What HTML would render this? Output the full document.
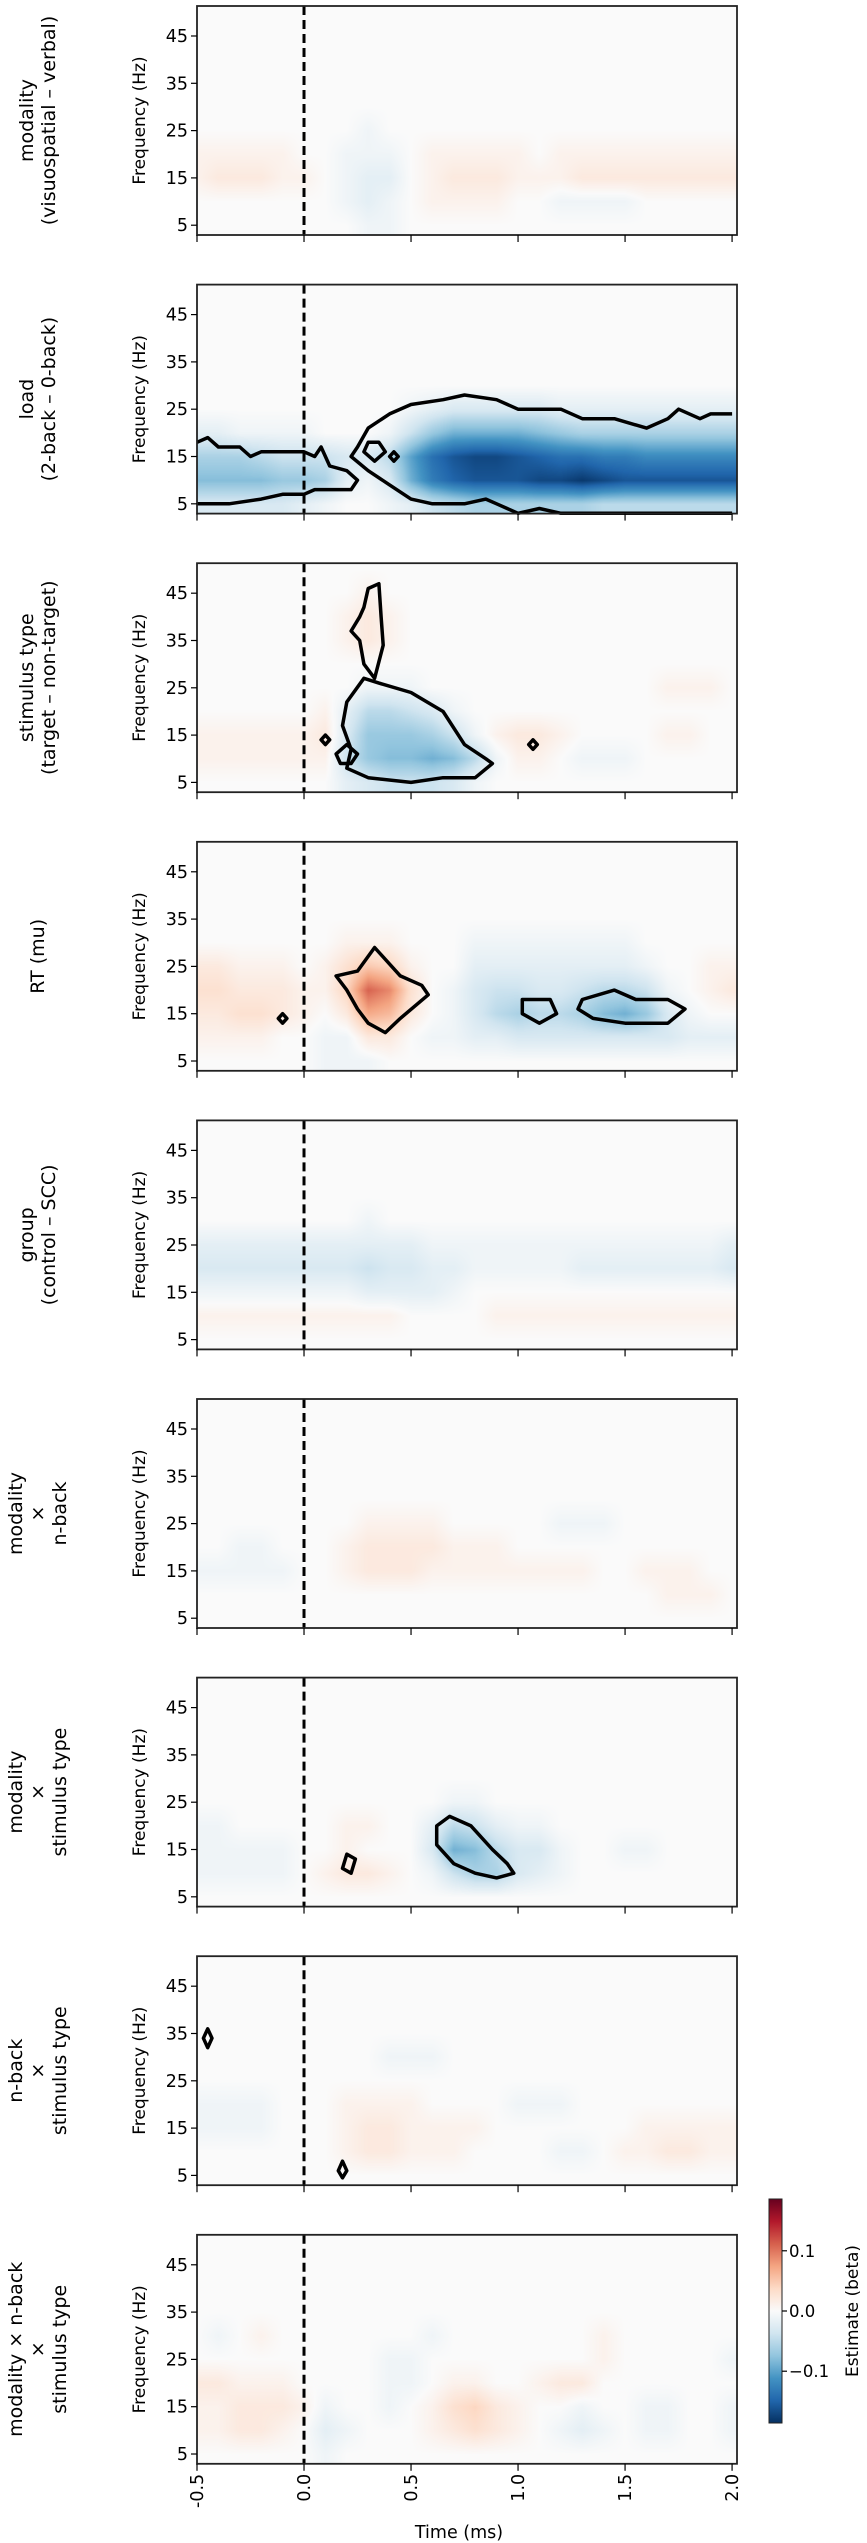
<!DOCTYPE html>
<html><head><meta charset="utf-8">
<style>
html,body{margin:0;padding:0;background:#fff;}
body{width:867px;height:2543px;position:relative;overflow:hidden;font-family:"DejaVu Sans","Liberation Sans",sans-serif;}
canvas{position:absolute;}
svg{position:absolute;left:0;top:0;}
</style></head>
<body>
<svg id="fig" width="867" height="2543"></svg>
<script>
// ---- data ----
const times = [-0.5,-0.4,-0.3,-0.2,-0.1,0,0.1,0.2,0.3,0.4,0.5,0.6,0.7,0.8,0.9,1.0,1.1,1.2,1.3,1.4,1.5,1.6,1.7,1.8,1.9,2.0];
const freqs = [5,10,15,20,25,30,35,40,45,50];
const freqTicks = [5,15,25,35,45];
const timeTicks = [-0.5,0.0,0.5,1.0,1.5,2.0];
const timeTickLabels = ["-0.5","0.0","0.5","1.0","1.5","2.0"];
const cbarTicks = [0.1,0.0,-0.1];
const cbarTickLabels = ["0.1","0.0","\u22120.1"];
const rowLabels = [
 ["modality","(visuospatial \u2013 verbal)"],
 ["load","(2-back \u2013 0-back)"],
 ["stimulus type","(target \u2013 non-target)"],
 ["RT (mu)"],
 ["group","(control \u2013 SCC)"],
 ["modality","\u00d7","n-back"],
 ["modality","\u00d7","stimulus type"],
 ["n-back","\u00d7","stimulus type"],
 ["modality \u00d7 n-back","\u00d7","stimulus type"]
];
// grids: rows = freqs (5,10,15,...), values in units of 0.01 beta
const gridModality = [
 [0,0,0,0,0,0,0,0,-1,-1,0,0,0,0,0,0,0,0,0,0,0,0,0,0,0,0],
 [0,0,0,0,0,0,0,-1,-2,-1,0,1,1,1,1,0,0,-1,-1,-1,-1,0,0,0,0,0],
 [1,2,2,2,1,1,0,-1,-2,-2,0,1,2,2,2,1,1,1,2,2,2,2,2,2,2,2],
 [1,1,1,1,1,0,0,-1,-1,-1,0,1,1,1,1,1,0,1,1,1,1,1,1,1,1,1],
 [0,0,0,0,0,0,0,0,-1,0,0,0,0,0,0,0,0,0,0,0,0,0,0,0,0,0]
];
const gridLoad = [
 [-3,-3,-3,-3,-3,-2,-1,0,0,-1,-2,-4,-5,-6,-6,-6,-6,-6,-6,-5,-5,-5,-5,-5,-5,-5],
 [-8,-8,-8,-8,-7,-7,-6,-2,-1,-3,-9,-13,-15,-16,-16,-16,-17,-17,-18,-17,-16,-16,-16,-16,-16,-16],
 [-6,-6,-6,-5,-4,-4,-4,-3,-3,-5,-10,-14,-16,-17,-17,-16,-15,-14,-14,-13,-13,-12,-12,-12,-12,-12],
 [-2,-2,-1,-1,-1,-1,0,0,0,-1,-4,-7,-9,-9,-9,-9,-8,-7,-6,-6,-6,-6,-6,-6,-6,-6],
 [0,0,0,0,0,0,0,0,0,0,-1,-2,-3,-3,-3,-3,-3,-2,-2,-2,-2,-2,-2,-2,-2,-2]
];
const gridStimulus = [
 [0,0,0,0,0,0,0,-2,-3,-4,-4,-4,-3,-1,0,0,0,0,0,0,0,0,0,0,0,0],
 [1,1,1,1,1,1,1,-4,-7,-8,-8,-9,-8,-5,-1,1,1,0,-1,-1,-1,0,0,0,0,0],
 [1,1,1,1,1,1,2,-3,-7,-7,-7,-6,-4,-1,1,2,2,1,0,0,0,0,1,1,0,0],
 [0,0,0,0,0,0,1,-2,-5,-5,-4,-3,-1,0,0,0,0,0,0,0,0,0,0,0,0,0],
 [0,0,0,0,0,0,0,0,-1,-1,-1,0,0,0,0,0,0,0,0,0,0,0,1,1,1,0],
 [0,0,0,0,0,0,0,0,0,0,0,0,0,0,0,0,0,0,0,0,0,0,0,0,0,0],
 [0,0,0,0,0,0,0,1,2,1,0,0,0,0,0,0,0,0,0,0,0,0,0,0,0,0],
 [0,0,0,0,0,0,0,1,2,1,0,0,0,0,0,0,0,0,0,0,0,0,0,0,0,0],
 [0,0,0,0,0,0,0,0,1,0,0,0,0,0,0,0,0,0,0,0,0,0,0,0,0,0]
];
const gridRT = [
 [0,0,0,0,0,0,-1,-1,-1,0,0,0,0,0,0,0,0,0,0,0,0,0,0,0,0,0],
 [1,1,1,1,0,0,-1,-1,2,2,0,-1,-1,-2,-2,-3,-3,-3,-3,-3,-3,-3,-3,-2,-2,-2],
 [2,2,3,3,2,1,0,2,7,6,2,0,-1,-3,-5,-6,-5,-5,-6,-8,-9,-7,-3,-1,0,0],
 [3,3,2,2,2,1,1,4,11,9,3,0,-1,-3,-4,-4,-3,-3,-4,-5,-5,-4,-1,0,1,2],
 [2,2,1,1,1,0,1,3,5,4,1,0,0,-2,-2,-2,-2,-2,-2,-2,-2,-1,0,0,1,1],
 [0,0,0,0,0,0,0,1,1,1,0,0,0,-1,-1,-1,-1,-1,-1,-1,-1,0,0,0,0,0]
];
const gridGroup = [
 [0,0,0,0,0,0,0,0,0,0,0,0,0,0,0,0,0,0,0,0,0,0,0,0,0,0],
 [1,1,1,1,1,1,1,1,1,1,0,0,0,0,1,1,1,1,1,1,1,1,1,1,1,1],
 [-1,-1,-1,-1,-1,-1,-1,-1,-2,-2,-2,-2,-1,0,0,0,0,0,0,0,0,0,0,0,0,0],
 [-3,-3,-3,-3,-3,-3,-3,-3,-4,-3,-3,-2,-2,-1,-1,-1,-1,-1,-2,-2,-2,-2,-2,-2,-2,-3],
 [-2,-2,-2,-2,-2,-2,-2,-2,-2,-2,-2,-1,-1,-1,-1,-1,-1,-1,-1,-1,-1,-1,-1,-1,-1,-2],
 [0,0,0,0,0,0,0,0,-1,0,0,0,0,0,0,0,0,0,0,0,0,0,0,0,0,0]
];
const gridModNback = [
 [0,0,0,0,0,0,0,0,0,0,0,0,0,0,0,0,0,0,0,0,0,0,0,0,0,0],
 [0,0,0,0,0,0,0,0,0,0,0,0,0,0,0,0,0,0,0,0,0,0,1,1,1,0],
 [-1,-1,-1,-1,-1,0,0,1,2,2,2,1,1,1,1,1,1,1,1,0,0,1,1,1,0,0],
 [0,0,-1,-1,0,0,0,1,2,2,2,2,1,1,1,0,0,0,0,0,0,0,0,0,0,0],
 [0,0,0,0,0,0,0,0,1,1,1,1,0,0,0,0,0,-1,-1,-1,0,0,0,0,0,0]
];
const gridModStim = [
 [0,0,0,0,0,0,0,0,0,0,0,0,0,0,0,0,0,0,0,0,0,0,0,0,0,0],
 [-1,-1,-1,-1,-1,0,1,2,2,1,0,-1,-4,-6,-6,-3,-2,-1,0,0,0,0,0,0,0,0],
 [-1,-1,-1,-1,-1,0,0,1,0,0,0,-3,-9,-8,-5,-3,-3,-1,0,0,-1,-1,0,0,0,0],
 [-1,-1,0,0,0,0,0,1,1,0,0,-2,-5,-4,-2,-1,-1,0,0,0,0,0,0,0,0,0],
 [0,0,0,0,0,0,0,0,0,0,0,0,-1,-1,0,0,0,0,0,0,0,0,0,0,0,0]
];
const gridNbackStim = [
 [0,0,0,0,0,0,0,0,0,0,0,0,0,0,0,0,0,0,0,0,0,0,0,0,0,0],
 [0,0,0,0,0,0,0,1,2,2,1,1,1,0,0,0,0,-1,-1,0,1,1,2,2,1,1],
 [-1,-1,-1,-1,0,0,0,1,2,2,1,1,1,1,0,0,0,0,0,0,0,1,1,1,1,1],
 [-1,-1,-1,-1,0,0,0,1,1,1,1,0,0,0,0,-1,-1,-1,0,0,0,0,0,0,0,0],
 [0,0,0,0,0,0,0,0,0,0,0,0,0,0,0,0,0,0,0,0,0,0,0,0,0,0],
 [0,0,0,0,0,0,0,0,0,-1,-1,-1,0,0,0,0,0,0,0,0,0,0,0,0,0,0]
];
const gridTriple = [
 [0,0,0,0,0,0,-1,0,0,0,0,0,0,0,0,0,0,0,0,0,0,0,0,0,0,0],
 [1,1,2,2,1,0,-2,-1,0,0,0,1,2,3,2,1,0,-1,-2,-1,0,-1,-1,0,0,-1],
 [1,1,2,2,2,1,-1,0,0,-1,0,1,3,4,2,1,0,0,-1,0,0,-1,-1,0,0,-1],
 [2,2,1,1,1,0,0,0,0,-1,-1,0,1,1,0,0,1,2,2,0,0,0,0,0,0,0],
 [0,0,0,0,0,0,0,0,0,-1,-1,0,0,0,0,0,0,0,0,1,0,0,0,0,0,-1],
 [0,-1,0,1,0,0,0,0,0,0,0,-1,0,0,0,0,0,0,0,1,0,0,0,0,0,0]
];
const grids = [gridModality,gridLoad,gridStimulus,gridRT,gridGroup,gridModNback,gridModStim,gridNbackStim,gridTriple];
// significance contours: [time, freq] pairs; closed flag
const contoursLoad = [
 {c:false,p:[[-0.5,18],[-0.45,19],[-0.4,17],[-0.3,17],[-0.25,15],[-0.2,16],[-0.1,16],[0,16],[0.05,15],[0.08,17],[0.12,13],[0.2,12],[0.25,10],[0.22,8],[0.05,8],[0,7],[-0.1,7],[-0.2,6],[-0.35,5],[-0.5,5]]},
 {c:false,p:[[2.0,24],[1.9,24],[1.85,23],[1.75,25],[1.7,23],[1.6,21],[1.45,23],[1.3,23],[1.2,25],[1.0,25],[0.9,27],[0.75,28],[0.65,27],[0.5,26],[0.4,24],[0.3,21],[0.25,17],[0.22,15],[0.3,12],[0.4,9],[0.5,6],[0.6,5],[0.75,5],[0.85,6],[0.9,5],[1.0,3],[1.1,4],[1.2,3],[1.4,3],[1.6,3],[1.8,3],[2.0,3]]},
 {c:true,p:[[0.3,18],[0.35,18],[0.38,16],[0.33,14],[0.28,16]]},
 {c:true,p:[[0.4,15],[0.42,16],[0.44,15],[0.42,14]]}
];
const contoursStimulus = [
 {c:true,p:[[0.28,42],[0.3,46],[0.35,47],[0.36,40],[0.37,34],[0.33,27],[0.28,30],[0.26,35],[0.22,37],[0.26,40]]},
 {c:true,p:[[0.28,27],[0.35,26],[0.5,24],[0.65,20],[0.75,13],[0.85,10],[0.88,9],[0.8,6],[0.65,6],[0.5,5],[0.3,6],[0.2,8],[0.22,12],[0.18,17],[0.2,22]]},
 {c:true,p:[[0.15,11],[0.2,13],[0.25,11],[0.22,9],[0.17,9]]},
 {c:true,p:[[0.08,14],[0.1,15],[0.12,14],[0.1,13]]},
 {c:true,p:[[1.05,13],[1.07,14],[1.09,13],[1.07,12]]}
];
const contoursRT = [
 {c:true,p:[[0.25,24],[0.33,29],[0.45,23],[0.55,21],[0.58,19],[0.45,14],[0.38,11],[0.3,13],[0.25,16],[0.2,20],[0.15,23]]},
 {c:true,p:[[1.02,18],[1.15,18],[1.18,15],[1.1,13],[1.02,15]]},
 {c:true,p:[[1.3,18],[1.45,20],[1.55,18],[1.7,18],[1.78,16],[1.7,13],[1.5,13],[1.35,14],[1.28,16]]},
 {c:true,p:[[-0.12,14],[-0.1,15],[-0.08,14],[-0.1,13]]}
];
const contoursModStim = [
 {c:true,p:[[0.62,20],[0.68,22],[0.78,20],[0.88,15],[0.95,12],[0.98,10],[0.9,9],[0.8,10],[0.7,12],[0.62,16]]},
 {c:true,p:[[0.2,14],[0.24,13],[0.22,10],[0.18,11]]}
];
const contoursNbackStim = [
 {c:true,p:[[-0.45,36],[-0.43,34],[-0.45,32],[-0.47,34]]},
 {c:true,p:[[0.18,8],[0.2,6],[0.18,4.5],[0.16,6]]}
];
const contours = [[],contoursLoad,contoursStimulus,contoursRT,[],[],contoursModStim,contoursNbackStim,[]];

// ---- layout ----
const X0=197, X1=737, T0=-0.5, T1=2.023;
const PH=229, PITCH=278.6, TOP0=6;
const F_TOP=51.34, F_BOT=2.93;
const VMAX=18.6;
function xScale(t){return X0+(t-T0)/(T1-T0)*(X1-X0);}
function yScale(f,top){return top+(F_TOP-f)/(F_TOP-F_BOT)*PH;}
const RdBu=[[5,48,97],[33,102,172],[67,147,195],[146,197,222],[209,229,240],[250,250,250],[253,219,199],[244,165,130],[214,96,77],[178,24,43],[103,0,31]];
function cmap(v){let u=(Math.max(-1,Math.min(1,v/VMAX))+1)/2*10;let i=Math.min(9,Math.floor(u));let r=u-i;const a=RdBu[i],b=RdBu[i+1];return [a[0]+(b[0]-a[0])*r,a[1]+(b[1]-a[1])*r,a[2]+(b[2]-a[2])*r];}
function sample(g,t,f){
 let ti=(t-times[0])/0.1; ti=Math.max(0,Math.min(times.length-1,ti));
 let fi=(f-freqs[0])/5; fi=Math.max(0,Math.min(freqs.length-1,fi));
 const i0=Math.min(times.length-2,Math.floor(ti)), j0=Math.min(freqs.length-2,Math.floor(fi));
 const rt=ti-i0, rf=fi-j0;
 const v=(j,i)=> (g[j]&&g[j][i]!==undefined)?g[j][i]:0;
 const a=v(j0,i0)*(1-rt)+v(j0,i0+1)*rt, b=v(j0+1,i0)*(1-rt)+v(j0+1,i0+1)*rt;
 return a*(1-rf)+b*rf;
}
const NS='http://www.w3.org/2000/svg';
const svg=document.getElementById('fig');
function mk(tag,attrs,parent){const e=document.createElementNS(NS,tag);for(const k in attrs)e.setAttribute(k,attrs[k]);(parent||svg).appendChild(e);return e;}

grids.forEach((g,pi)=>{
 const top=TOP0+pi*PITCH;
 const W=X1-X0, H=PH;
 const cv=document.createElement('canvas');
 cv.width=W;cv.height=H;cv.style.left=X0+'px';cv.style.top=top+'px';
 
 
 document.body.insertBefore(cv,svg);
 const ctx=cv.getContext('2d');const img=ctx.createImageData(W,H);
 for(let y=0;y<H;y++){const f=F_TOP-(y+0.5)/H*(F_TOP-F_BOT);
  for(let x=0;x<W;x++){const t=T0+(x+0.5)/W*(T1-T0);
   const c=cmap(sample(g,t,f));const k=(y*W+x)*4;
   img.data[k]=c[0];img.data[k+1]=c[1];img.data[k+2]=c[2];img.data[k+3]=255;}}
 ctx.putImageData(img,0,0);

 const grp=mk('g',{});
 
 
 contours[pi].forEach(ct=>{
  const d=ct.p.map((q,i)=>(i?'L':'M')+xScale(q[0]).toFixed(1)+','+yScale(q[1],top).toFixed(1)).join('')+(ct.c?'Z':'');
  const p=mk('path',{d:d,fill:'none',stroke:'#000','stroke-width':3.5,'stroke-linejoin':'round'},grp);
  
  
 });
 const dl=mk('line',{x1:xScale(0),x2:xScale(0),y1:top,y2:top+PH,stroke:'#000','stroke-width':3,'stroke-dasharray':'9,5'},grp);
 
 
 const fr=mk('rect',{x:X0,y:top,width:X1-X0,height:PH,fill:'none',stroke:'#222','stroke-width':1.8},grp);
 
 
 freqTicks.forEach(f=>{
  const y=yScale(f,top);
  const tk=mk('line',{x1:X0-6,x2:X0,y1:y,y2:y,stroke:'#000','stroke-width':1.2},grp);
  
  
  const tl=mk('text',{x:X0-9,y:y+6,'text-anchor':'end','font-size':17.5,fill:'#000'},grp);
  
  
  tl.textContent=String(f);
 });
 const yc=top+PH/2;
 const yt=mk('text',{x:0,y:0,'text-anchor':'middle','font-size':17,fill:'#000',transform:'translate(145,'+yc+') rotate(-90)'},grp);
 
 
 yt.textContent='Frequency (Hz)';
 timeTicks.forEach((t,i)=>{
  const x=xScale(t);
  const tk=mk('line',{x1:x,x2:x,y1:top+PH,y2:top+PH+7,stroke:'#000','stroke-width':1.2},grp);
  
  
  if(pi===grids.length-1){
   const tl=mk('text',{x:0,y:0,'text-anchor':'end','font-size':17.5,fill:'#000',transform:'translate('+(x+6)+','+(top+PH+10)+') rotate(-90)'},grp);
   
   
   tl.textContent=timeTickLabels[i];
  }
 });
 const lines=rowLabels[pi];const lh=22;
 const rl=mk('text',{x:0,y:0,'text-anchor':'middle','font-size':19,fill:'#000',transform:'translate(37,'+yc+') rotate(-90)'},grp);
 
 
 lines.forEach((s,i)=>{const ts=mk('tspan',{x:0,y:(i-(lines.length-1)/2)*lh+7},rl);ts.textContent=s;});
});
const xt=mk('text',{x:(X0+X1)/2-8,y:2538,'text-anchor':'middle','font-size':17.5,fill:'#000'});


xt.textContent='Time (ms)';
const CB={x:769,w:13,y0:2199,y1:2423};
const defs=mk('defs',{});
const lg=mk('linearGradient',{id:'cbg',x1:0,y1:1,x2:0,y2:0},defs);
RdBu.forEach((c,i)=>mk('stop',{offset:(i/10),'stop-color':'rgb('+c.join(',')+')'},lg));
const cbr=mk('rect',{x:CB.x,y:CB.y0,width:CB.w,height:CB.y1-CB.y0,fill:'url(#cbg)',stroke:'#222','stroke-width':1});


function cbY(v){return CB.y0+(VMAX/100-v)/(2*VMAX/100)*(CB.y1-CB.y0);}
cbarTicks.forEach((v,i)=>{
 const y=cbY(v);
 const tk=mk('line',{x1:CB.x+CB.w,x2:CB.x+CB.w+5,y1:y,y2:y,stroke:'#000','stroke-width':1.2});
 
 
 const tl=mk('text',{x:CB.x+CB.w+7,y:y+6,'font-size':16.5,fill:'#000'});
 
 
 tl.textContent=cbarTickLabels[i];
});
const cbt=mk('text',{x:0,y:0,'text-anchor':'middle','font-size':17,fill:'#000',transform:'translate(858,'+((CB.y0+CB.y1)/2)+') rotate(-90)'});


cbt.textContent='Estimate (beta)';
</script>
</body></html>
